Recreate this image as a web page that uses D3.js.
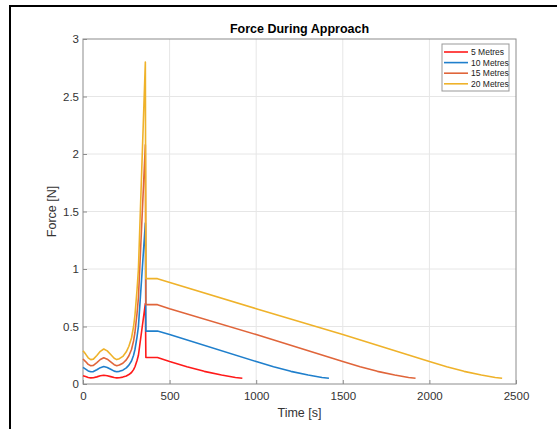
<!DOCTYPE html>
<html>
<head>
<meta charset="utf-8">
<script src="https://cdn.jsdelivr.net/npm/d3@7"></script>
<style>
  body { margin: 0; background: #fff; }
  svg { display: block; font-family: "Liberation Sans", Arial, sans-serif; }
  .grid line { stroke: #e6e6e6; stroke-width: 1; }
  .axis path { display: none; }
  .axis line { stroke: #8c8c8c; }
  .axis text { fill: #333; font-size: 11.5px; }
</style>
</head>
<body>
<svg id="chart" width="557" height="429"></svg>
<script>
// series names and colours
var seriesNames = ["5 Metres", "10 Metres", "15 Metres", "20 Metres"];
var seriesColors = ["#ff1a1a", "#1f7fcc", "#e0653a", "#efb22a"];

// approach phase (shared time samples), force in N
var approachTime = [0, 15, 30, 45, 60, 80, 100, 120, 140, 160, 180, 195, 210, 230, 250, 265, 280, 292, 300, 312, 320, 360];
var approach5  = [0.072, 0.065, 0.057, 0.053, 0.054, 0.062, 0.071, 0.076, 0.072, 0.064, 0.056, 0.053, 0.055, 0.060, 0.070, 0.082, 0.100, 0.125, 0.150, 0.205, 0.250, 0.70];
var approach10 = [0.145, 0.130, 0.114, 0.106, 0.108, 0.124, 0.142, 0.152, 0.144, 0.128, 0.112, 0.106, 0.110, 0.120, 0.140, 0.164, 0.200, 0.250, 0.300, 0.410, 0.500, 1.40];
var approach15 = [0.217, 0.195, 0.171, 0.159, 0.162, 0.186, 0.213, 0.228, 0.216, 0.192, 0.168, 0.159, 0.165, 0.180, 0.210, 0.246, 0.300, 0.375, 0.450, 0.615, 0.750, 2.08];
var approach20 = [0.290, 0.260, 0.228, 0.212, 0.216, 0.248, 0.284, 0.304, 0.288, 0.256, 0.224, 0.212, 0.220, 0.240, 0.280, 0.328, 0.400, 0.500, 0.600, 0.820, 1.000, 2.80];

// hold + decay phase
var decayTime5  = [363, 430, 500, 600, 700, 800, 880, 920];
var decay5      = [0.23, 0.23, 0.195, 0.15, 0.11, 0.078, 0.056, 0.05];
var decayTime10 = [363, 430, 500, 1000, 1100, 1200, 1300, 1380, 1420];
var decay10     = [0.46, 0.46, 0.43, 0.195, 0.15, 0.11, 0.078, 0.056, 0.05];
var decayTime15 = [363, 430, 500, 1000, 1500, 1600, 1700, 1800, 1880, 1920];
var decay15     = [0.69, 0.69, 0.655, 0.43, 0.195, 0.15, 0.11, 0.078, 0.056, 0.05];
var decayTime20 = [363, 430, 1000, 1500, 2000, 2100, 2200, 2300, 2380, 2420];
var decay20     = [0.916, 0.916, 0.655, 0.43, 0.195, 0.15, 0.11, 0.078, 0.056, 0.05];

var xTicks = [0, 500, 1000, 1500, 2000, 2500];
var yTicks = [0, 0.5, 1, 1.5, 2, 2.5, 3];

function buildSeries(aVals, dTime, dVals) {
    var pts = approachTime.map(function (t, i) { return [t, aVals[i]]; });
    dTime.forEach(function (t, i) { pts.push([t, dVals[i]]); });
    return pts;
}

var allSeries = [
    buildSeries(approach5, decayTime5, decay5),
    buildSeries(approach10, decayTime10, decay10),
    buildSeries(approach15, decayTime15, decay15),
    buildSeries(approach20, decayTime20, decay20)
];

var svg = d3.select("#chart");

// plot box (window.top is reserved, so use other names)
var plotLeft = 83, plotRight = 516, plotTop = 39, plotBottom = 384;

var xScale = d3.scaleLinear().domain([0, 2500]).range([plotLeft, plotRight]);
var yScale = d3.scaleLinear().domain([0, 3]).range([plotBottom, plotTop]);

// outer frame (only top/left visible in the picture)
svg.append("rect")
    .attr("x", 10).attr("y", 6)
    .attr("width", 600).attr("height", 500)
    .attr("fill", "none")
    .attr("stroke", "#000")
    .attr("stroke-width", 2);

// grid
var grid = svg.append("g").attr("class", "grid");
grid.selectAll(".gx").data(xTicks.slice(1, -1)).enter().append("line")
    .attr("x1", function (d) { return xScale(d); })
    .attr("x2", function (d) { return xScale(d); })
    .attr("y1", plotTop).attr("y2", plotBottom);
grid.selectAll(".gy").data(yTicks.slice(1, -1)).enter().append("line")
    .attr("y1", function (d) { return yScale(d); })
    .attr("y2", function (d) { return yScale(d); })
    .attr("x1", plotLeft).attr("x2", plotRight);

// axes (ticks point inward like matlab)
svg.append("g")
    .attr("class", "axis")
    .attr("transform", "translate(0," + plotBottom + ")")
    .call(d3.axisBottom(xScale).tickValues(xTicks).tickSizeInner(-4).tickSizeOuter(0).tickPadding(8)
        .tickFormat(d3.format("")));

svg.append("g")
    .attr("class", "axis")
    .attr("transform", "translate(" + plotLeft + ",0)")
    .call(d3.axisLeft(yScale).tickValues(yTicks).tickSizeInner(-4).tickSizeOuter(0).tickPadding(4)
        .tickFormat(d3.format("")));

// axes box
svg.append("rect")
    .attr("x", plotLeft).attr("y", plotTop)
    .attr("width", plotRight - plotLeft).attr("height", plotBottom - plotTop)
    .attr("fill", "none")
    .attr("stroke", "#8c8c8c")
    .attr("stroke-width", 1);

// lines
var line = d3.line()
    .x(function (d) { return xScale(d[0]); })
    .y(function (d) { return yScale(d[1]); });

svg.append("g").selectAll("path")
    .data(allSeries)
    .enter()
    .append("path")
    .attr("d", line)
    .attr("fill", "none")
    .attr("stroke", function (d, i) { return seriesColors[i]; })
    .attr("stroke-width", 1.6)
    .attr("stroke-linejoin", "round");

// title + labels
svg.append("text")
    .attr("x", (plotLeft + plotRight) / 2).attr("y", 33)
    .attr("text-anchor", "middle")
    .style("font-weight", "bold")
    .style("font-size", "12.5px")
    .attr("fill", "#000")
    .text("Force During Approach");

svg.append("text")
    .attr("x", (plotLeft + plotRight) / 2).attr("y", 417)
    .attr("text-anchor", "middle")
    .style("font-size", "12.5px")
    .attr("fill", "#333")
    .text("Time [s]");

svg.append("text")
    .attr("transform", "translate(56," + ((plotTop + plotBottom) / 2) + ") rotate(-90)")
    .attr("text-anchor", "middle")
    .style("font-size", "12.5px")
    .attr("fill", "#333")
    .text("Force [N]");

// legend
var legend = svg.append("g").attr("transform", "translate(442,44)");
legend.append("rect")
    .attr("width", 67).attr("height", 47)
    .attr("fill", "#fff")
    .attr("stroke", "#999")
    .attr("stroke-width", 1);

var items = legend.selectAll(".item").data(seriesNames).enter().append("g")
    .attr("transform", function (d, i) { return "translate(0," + (8 + i * 10.6) + ")"; });
items.append("line")
    .attr("x1", 2).attr("x2", 26)
    .attr("stroke", function (d, i) { return seriesColors[i]; })
    .attr("stroke-width", 1.6);
items.append("text")
    .attr("x", 29).attr("y", 3)
    .style("font-size", "8.5px")
    .attr("fill", "#222")
    .text(function (d) { return d; });
</script>
</body>
</html>
